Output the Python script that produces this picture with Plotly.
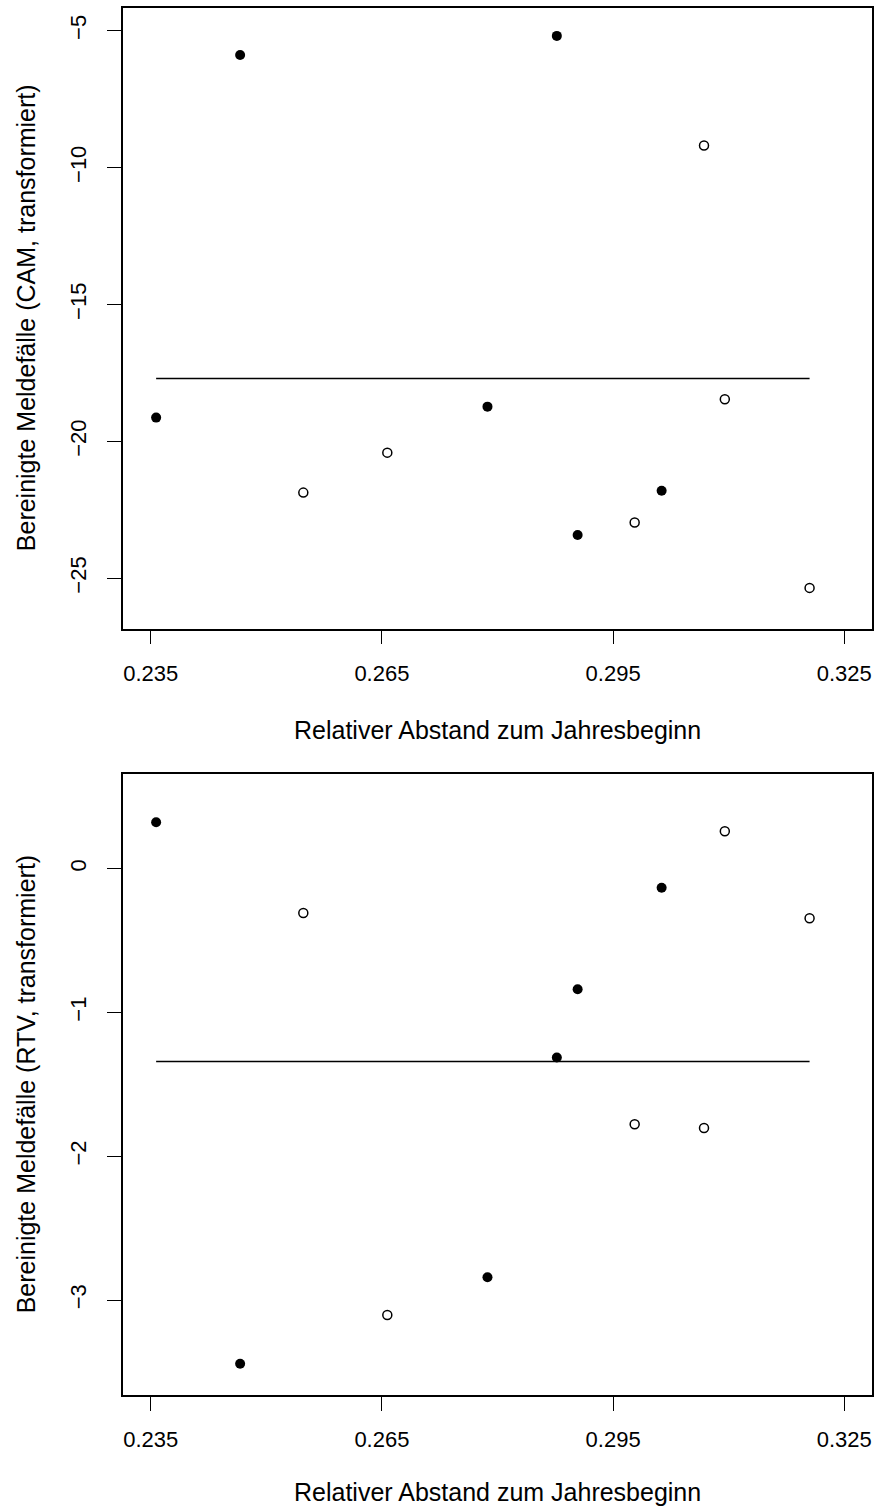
import plotly.graph_objects as go

# Data
x_vals = [0.2357, 0.2466, 0.2548, 0.2657, 0.2787, 0.2877, 0.2904, 0.2978, 0.3013, 0.3068, 0.3095, 0.3205]
cam_vals = [-19.13, -5.89, -21.87, -20.41, -18.73, -5.19, -23.42, -22.96, -21.80, -9.19, -18.46, -25.35]
rtv_vals = [0.323, -3.443, -0.308, -3.104, -2.842, -1.313, -0.838, -1.778, -0.132, -1.804, 0.260, -0.345]
filled = [True, True, False, False, True, True, True, False, True, False, False, False]
cam_line = -17.70
rtv_line = -1.341

x_ticks = [0.235, 0.265, 0.295, 0.325]
x_ticklabels = ["0.235", "0.265", "0.295", "0.325"]
cam_ticks = [-5, -10, -15, -20, -25]
rtv_ticks = [0, -1, -2, -3]

x_title = "Relativer Abstand zum Jahresbeginn"
cam_title = "Bereinigte Meldefälle (CAM, transformiert)"
rtv_title = "Bereinigte Meldefälle (RTV, transformiert)"

W, H = 874, 1508
FONT = "Liberation Sans, Arial, Helvetica, sans-serif"
TICK_SIZE = 22
TITLE_SIZE = 25

fig = go.Figure()

panels = [
    (cam_vals, cam_line, "x", "y"),
    (rtv_vals, rtv_line, "x2", "y2"),
]
for vals, lvl, xa, ya in panels:
    xf = [x for x, f in zip(x_vals, filled) if f]
    yf = [v for v, f in zip(vals, filled) if f]
    xo = [x for x, f in zip(x_vals, filled) if not f]
    yo = [v for v, f in zip(vals, filled) if not f]
    fig.add_trace(go.Scatter(x=[min(x_vals), max(x_vals)], y=[lvl, lvl], mode="lines",
                             line=dict(color="black", width=1.5), xaxis=xa, yaxis=ya,
                             showlegend=False, hoverinfo="skip"))
    fig.add_trace(go.Scatter(x=xf, y=yf, mode="markers",
                             marker=dict(symbol="circle", size=10, color="black"),
                             xaxis=xa, yaxis=ya, showlegend=False))
    fig.add_trace(go.Scatter(x=xo, y=yo, mode="markers",
                             marker=dict(symbol="circle-open", size=9, color="black",
                                         line=dict(width=1.5, color="black")),
                             xaxis=xa, yaxis=ya, showlegend=False))

x_dom = [123 / W, 872 / W]
top_dom = [1 - 628.7 / H, 1 - 7.7 / H]
bot_dom = [1 - 1394.9 / H, 1 - 773.8 / H]

common_x = dict(range=[0.2314, 0.3286], domain=x_dom, tickmode="array",
                tickvals=x_ticks, ticktext=x_ticklabels, ticks="outside", ticklen=14,
                tickwidth=1.2, tickcolor="black", showline=True, mirror=True,
                linecolor="black", linewidth=1.5, showgrid=False, zeroline=False,
                tickfont=dict(family=FONT, size=TICK_SIZE, color="black"),
                ticklabelstandoff=10, fixedrange=True)
common_y = dict(ticks="outside", ticklen=14, tickwidth=1.2, tickcolor="black",
                showline=True, mirror=True, linecolor="black", linewidth=1.5,
                showgrid=False, zeroline=False, tickangle=-90,
                tickfont=dict(family=FONT, size=TICK_SIZE, color="black"),
                ticklabelstandoff=12, fixedrange=True)

fig.update_layout(
    width=W, height=H, autosize=False,
    margin=dict(l=0, r=0, t=0, b=0),
    paper_bgcolor="white", plot_bgcolor="white",
    font=dict(family=FONT, color="black"),
    xaxis=dict(anchor="y", **common_x),
    xaxis2=dict(anchor="y2", **common_x),
    yaxis=dict(anchor="x", domain=top_dom, range=[-26.84, -4.16], tickmode="array",
               tickvals=cam_ticks, **common_y),
    yaxis2=dict(anchor="x2", domain=bot_dom, range=[-3.66, 0.66], tickmode="array",
                tickvals=rtv_ticks, **common_y),
)

xc = (x_dom[0] + x_dom[1]) / 2
annots = [
    dict(text=x_title, x=xc, y=1 - 730 / H, xref="paper", yref="paper",
         xanchor="center", yanchor="middle", showarrow=False,
         font=dict(family=FONT, size=TITLE_SIZE, color="black")),
    dict(text=x_title, x=xc, y=1 - 1492 / H, xref="paper", yref="paper",
         xanchor="center", yanchor="middle", showarrow=False,
         font=dict(family=FONT, size=TITLE_SIZE, color="black")),
    dict(text=cam_title, x=26 / W, y=(top_dom[0] + top_dom[1]) / 2, xref="paper", yref="paper",
         xanchor="center", yanchor="middle", showarrow=False, textangle=-90,
         font=dict(family=FONT, size=TITLE_SIZE, color="black")),
    dict(text=rtv_title, x=26 / W, y=(bot_dom[0] + bot_dom[1]) / 2, xref="paper", yref="paper",
         xanchor="center", yanchor="middle", showarrow=False, textangle=-90,
         font=dict(family=FONT, size=TITLE_SIZE, color="black")),
]
fig.update_layout(annotations=annots)

fig.write_html("out.html", config={"displayModeBar": False})
